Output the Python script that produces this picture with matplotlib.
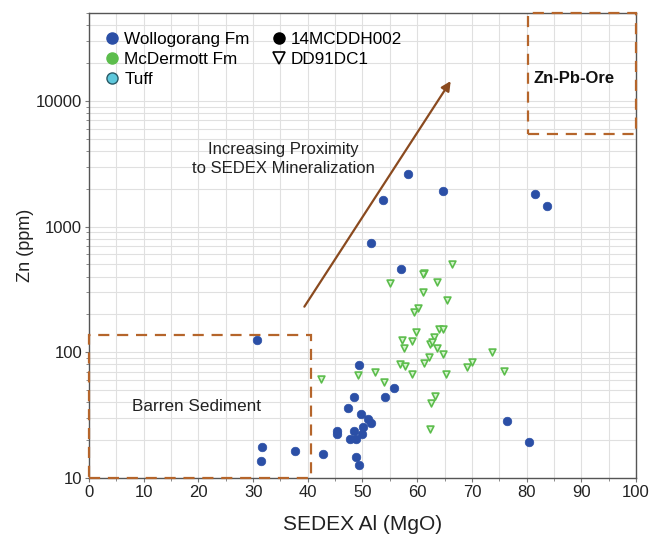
import matplotlib
matplotlib.use("Agg")
import matplotlib.pyplot as plt
from matplotlib.lines import Line2D
from matplotlib.patches import Rectangle
from matplotlib.ticker import FixedLocator, NullFormatter, LogLocator

plt.rcParams['font.family'] = ['Liberation Sans', 'DejaVu Sans']

# Wollogorang Fm, drill hole 14MCDDH002 (filled circles)
woll_al = [30.8, 31.7, 31.4, 37.7, 42.8, 45.4, 45.4, 47.8, 48.9, 48.4, 50.0,
           47.3, 48.4, 49.4, 49.7, 51.0, 51.6, 50.1, 48.8, 49.4, 54.2, 55.8,
           51.5, 57.0, 53.7, 58.4, 64.8, 81.5, 83.7, 76.5, 80.4]
woll_zn = [125, 17.5, 13.6, 16.5, 15.6, 23.6, 22.2, 20.4, 20.4, 23.6, 22.5,
           36, 44, 79.7, 32.1, 29.3, 27.5, 25.5, 14.7, 12.6, 44, 51.8,
           741, 459, 1615, 2606, 1905, 1803, 1452, 28.3, 19.5]

# McDermott Fm, drill hole DD91DC1 (open triangles)
mcd_al = [66.4, 61.2, 61.1, 55.0, 63.7, 61.0, 65.5, 60.1, 59.5, 59.8, 63.9,
          64.7, 57.2, 59.0, 63.1, 62.4, 62.8, 57.5, 63.7, 64.8, 62.2, 61.2,
          73.6, 70.1, 69.1, 56.9, 57.8, 59.0, 65.2, 75.9, 52.3, 49.1, 54.0,
          63.3, 62.5, 62.3, 42.5]
mcd_zn = [503, 431, 423, 355, 363, 303, 261, 224, 210, 145, 153,
          153, 126, 122, 132, 116, 120, 109, 108, 97.7, 91.7, 82,
          100, 83.6, 76.9, 80.6, 77.3, 67, 67, 70.5, 69.5, 65.5, 58.3,
          45.3, 39.3, 24.5, 61.1]

blue = '#2b4fa6'
green = '#5cbd4c'
brown = '#b5652b'

fig = plt.figure(figsize=(6.62, 5.36), dpi=100)
ax = fig.add_axes([0.1344, 0.1082, 0.8263, 0.8675])

ax.set_xlim(0, 100)
ax.set_yscale('log')
ax.set_ylim(10, 50000)

ax.xaxis.set_major_locator(FixedLocator(range(0, 101, 10)))
ax.xaxis.set_minor_locator(FixedLocator(range(5, 100, 10)))
ax.yaxis.set_major_locator(FixedLocator([10, 100, 1000, 10000]))
ax.yaxis.set_minor_locator(LogLocator(base=10, subs=range(2, 10)))
ax.yaxis.set_minor_formatter(NullFormatter())
ax.set_yticklabels(['10', '100', '1000', '10000'])

ax.grid(True, which='both', color='#e0e0e0', linewidth=0.8)
ax.set_axisbelow(True)
for s in ax.spines.values():
    s.set_color('#555555')
    s.set_linewidth(1.0)
ax.tick_params(which='both', direction='out', colors='#777777', labelcolor='#222222',
               labelsize=12)
ax.tick_params(which='major', length=3, pad=2)
ax.tick_params(which='minor', length=2)

# field boxes
ax.add_patch(Rectangle((0, 10), 40.5, 127, fill=False, ec=brown, lw=1.6,
                       ls=(0, (5, 3.5)), clip_on=False, zorder=3))
ax.add_patch(Rectangle((80.2, 5450), 19.8, 44550, fill=False, ec=brown, lw=1.6,
                       ls=(0, (5, 3.5)), clip_on=False, zorder=3))

ax.annotate('', xy=(66.4, 15000), xytext=(39.1, 221),
            arrowprops=dict(arrowstyle='-|>', color='#8a4a1f', lw=1.6,
                            mutation_scale=14))

ax.scatter(mcd_al, mcd_zn, marker='v', s=24, facecolor='#d6f3cf',
           edgecolor=green, linewidth=1.2, zorder=4)
ax.scatter(woll_al, woll_zn, marker='o', s=38, color=blue, edgecolor=blue,
           linewidth=0.5, zorder=5)

ax.text(35.5, 3440, 'Increasing Proximity\nto SEDEX Mineralization', ha='center',
        va='center', fontsize=12, color='#222222', linespacing=1.35)
ax.text(19.6, 37, 'Barren Sediment', ha='center', va='center', fontsize=12.3,
        color='#222222')
ax.text(88.6, 15000, 'Zn-Pb-Ore', ha='center', va='center', fontsize=12,
        fontweight='bold', color='#111111')

ax.set_xlabel('SEDEX Al (MgO)', fontsize=15, color='#222222', labelpad=11)
ax.set_ylabel('Zn (ppm)', fontsize=13, color='#222222', labelpad=1)

handles = [
    Line2D([], [], ls='', marker='o', ms=8, mfc=blue, mec=blue),
    Line2D([], [], ls='', marker='o', ms=8, mfc=green, mec=green),
    Line2D([], [], ls='', marker='o', ms=8, mfc='#5ec8dc', mec='#2a5a66'),
    Line2D([], [], ls='', marker='o', ms=8, mfc='black', mec='black'),
    Line2D([], [], ls='', marker='v', ms=9, mfc='white', mec='black', mew=1.2),
]
labels = ['Wollogorang Fm', 'McDermott Fm', 'Tuff', '14MCDDH002', 'DD91DC1']
ax.legend(handles, labels, loc='upper left', ncol=2, frameon=False, fontsize=12.3,
          handletextpad=0.2, columnspacing=1.2, labelspacing=0.3,
          handlelength=1.0, borderaxespad=0.3, bbox_to_anchor=(0.005, 0.985))

fig.savefig('out.png', dpi=100)
